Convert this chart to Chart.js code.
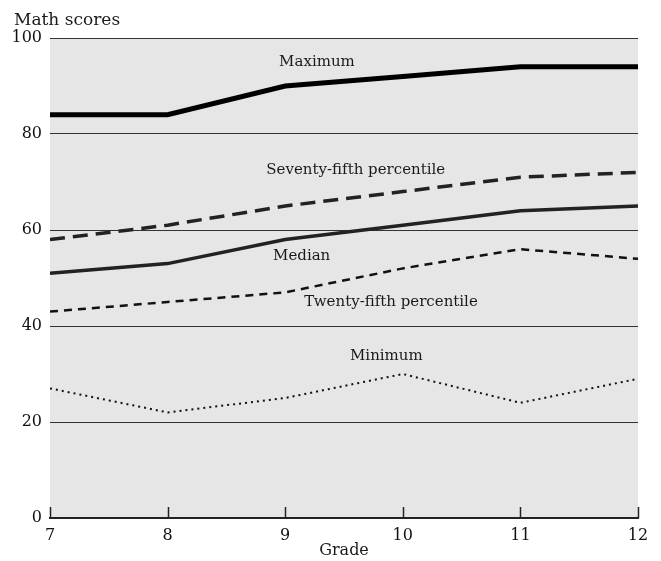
<!DOCTYPE html>
<html lang="en">
<head>
    <meta charset="UTF-8">
    <title>Math scores</title>
    <script src="https://cdn.jsdelivr.net/npm/chart.js@4.4.1/dist/chart.umd.min.js"></script>
    <style>
        html, body { margin: 0; padding: 0; background: #ffffff; }
        .chart-box { position: relative; width: 661px; height: 561px; }
    </style>
</head>
<body>
    <div class="chart-box">
        <canvas id="scoresChart"></canvas>
    </div>

    <script>
        const grades = [7, 8, 9, 10, 11, 12];
        const maximum = [84, 84, 90, 92, 94, 94];
        const p75 = [58, 61, 65, 68, 71, 72];
        const median = [51, 53, 58, 61, 64, 65];
        const p25 = [43, 45, 47, 52, 56, 54];
        const minimum = [27, 22, 25, 30, 24, 29];
        const yTicks = [0, 20, 40, 60, 80, 100];

        const FONT = '"DejaVu Serif", "Liberation Serif", serif';

        const toPoints = vals => vals.map((v, i) => ({ x: grades[i], y: v }));

        // series label placement in data units
        const seriesLabels = [
            { text: 'Maximum', x: 9.27, y: 95 },
            { text: 'Seventy-fifth percentile', x: 9.6, y: 72.5 },
            { text: 'Median', x: 9.14, y: 54.6 },
            { text: 'Twenty-fifth percentile', x: 9.9, y: 45 },
            { text: 'Minimum', x: 9.86, y: 33.8 }
        ];

        const decorations = {
            id: 'decorations',
            beforeDraw(chart) {
                const { ctx, chartArea: a } = chart;
                ctx.save();
                ctx.fillStyle = '#e6e6e6';
                ctx.fillRect(a.left, a.top, a.right - a.left, a.bottom - a.top);
                ctx.restore();
            },
            afterDraw(chart) {
                const { ctx, chartArea: a, scales } = chart;
                ctx.save();
                // inward tick marks on the grade axis
                ctx.strokeStyle = '#222';
                ctx.lineWidth = 1.5;
                grades.forEach(g => {
                    const px = Math.round(scales.x.getPixelForValue(g)) + 0.5;
                    ctx.beginPath();
                    ctx.moveTo(px, a.bottom);
                    ctx.lineTo(px, a.bottom - 11);
                    ctx.stroke();
                });
                ctx.fillStyle = '#1a1a1a';
                ctx.font = '15px ' + FONT;
                ctx.textAlign = 'center';
                ctx.textBaseline = 'middle';
                seriesLabels.forEach(l => {
                    ctx.fillText(l.text, scales.x.getPixelForValue(l.x), scales.y.getPixelForValue(l.y));
                });
                ctx.font = '17px ' + FONT;
                ctx.textAlign = 'left';
                ctx.fillText('Math scores', 14, 21);
                ctx.font = '16px ' + FONT;
                ctx.textAlign = 'center';
                ctx.fillText('Grade', (a.left + a.right) / 2, 551);
                ctx.restore();
            }
        };

        new Chart(document.getElementById('scoresChart'), {
            type: 'line',
            data: {
                datasets: [
                    { label: 'Maximum', data: toPoints(maximum), borderColor: '#000', borderWidth: 5 },
                    { label: 'Seventy-fifth percentile', data: toPoints(p75), borderColor: '#222', borderWidth: 3.5, borderDash: [15, 8] },
                    { label: 'Median', data: toPoints(median), borderColor: '#222', borderWidth: 3.5 },
                    { label: 'Twenty-fifth percentile', data: toPoints(p25), borderColor: '#111', borderWidth: 2.5, borderDash: [8, 6] },
                    { label: 'Minimum', data: toPoints(minimum), borderColor: '#111', borderWidth: 2, borderDash: [2, 4] }
                ]
            },
            options: {
                responsive: true,
                maintainAspectRatio: false,
                animation: false,
                layout: { padding: { top: 38, right: 23, left: 0, bottom: 0 } },
                elements: {
                    point: { radius: 0 },
                    line: { tension: 0, fill: false, borderCapStyle: 'butt', borderJoinStyle: 'miter' }
                },
                plugins: {
                    legend: { display: false },
                    tooltip: { enabled: false }
                },
                scales: {
                    x: {
                        type: 'linear',
                        min: grades[0],
                        max: grades[grades.length - 1],
                        afterBuildTicks: scale => { scale.ticks = grades.map(v => ({ value: v })); },
                        afterFit: scale => { scale.height = 43; },
                        grid: { display: false, drawTicks: false },
                        border: { display: true, color: '#222', width: 2 },
                        ticks: { color: '#111', padding: 8, font: { family: FONT, size: 16 } }
                    },
                    y: {
                        min: 0,
                        max: 100,
                        afterBuildTicks: scale => { scale.ticks = yTicks.map(v => ({ value: v })); },
                        afterFit: scale => { scale.width = 50; },
                        grid: { color: '#333', lineWidth: 1, drawTicks: false },
                        border: { display: false },
                        ticks: { color: '#111', padding: 8, font: { family: FONT, size: 16 } }
                    }
                }
            },
            plugins: [decorations]
        });
    </script>
</body>
</html>
